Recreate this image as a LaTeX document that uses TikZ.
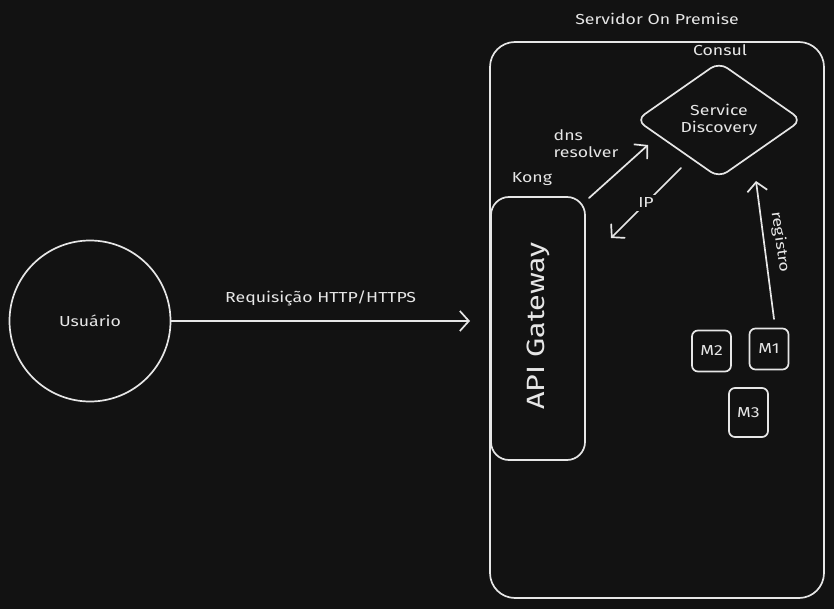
\documentclass[tikz,border=0pt]{standalone}
\usepackage{fontspec}
\setmainfont{Fira Sans}[FakeStretch=1.22]
\usetikzlibrary{arrows.meta,shapes.geometric}
\definecolor{bg}{HTML}{121212}
\definecolor{ink}{HTML}{E6E6E6}
\tikzset{
  stroke/.style={draw=ink, line width=1.7pt},
  lbl/.style={text=ink, font=\fontsize{14.5}{17}\selectfont, inner sep=1pt},
  arr/.style={stroke, -{Straight Barb[length=9pt,width=20pt,line width=1.7pt]}, line cap=round},
  mbox/.style={stroke, rounded corners=6pt, minimum width=39pt, minimum height=41pt, inner sep=0pt, text=ink, font=\fontsize{14.5}{17}\selectfont},
}
\begin{document}
\begin{tikzpicture}[x=1pt,y=-1pt]
\fill[bg] (0,0) rectangle (834,609);
\useasboundingbox (0,0) rectangle (834,609);

% user
\node[stroke, circle, minimum size=161pt, inner sep=0pt, lbl] (user) at (90,321) {Usuário};

% server
\node[stroke, rounded corners=25pt, minimum width=334pt, minimum height=556pt, inner sep=0pt] (srv) at (657,320) {};
\node[lbl] (srvlbl) at (657,19) {Servidor On Premise};

% gateway
\node[stroke, rounded corners=18pt, minimum width=94pt, minimum height=263pt, inner sep=0pt] (gw) at (538,328.5) {};
\node[text=ink, font=\fontsize{25}{27}\selectfont, rotate=90] (gwt) at (538,326) {API Gateway};
\node[lbl] (kong) at (532,179) {Kong};

% service discovery
\node[stroke, diamond, rounded corners=10pt, minimum width=166pt, minimum height=116pt, inner sep=0pt, lbl, align=center] (sd) at (719,120) {Service\\Discovery};
\node[lbl] (consul) at (720,50) {Consul};

% micro services
\node[mbox] (m2) at (711.5,351) {M2};
\node[mbox] (m1) at (769,349) {M1};
\node[mbox, minimum height=49pt] (m3) at (748.5,412.5) {M3};

% connectors
\coordinate (reqE) at (470,321);
\draw[arr] (user.east) -- node[lbl, above=13pt] {Requisição HTTP/HTTPS} (reqE);

\coordinate (dnsA) at (589,198);
\coordinate (dnsB) at (648,145);
\draw[arr] (dnsA) -- (dnsB);
\node[lbl, align=left] (dnslbl) at (586,144) {dns\\resolver};

\coordinate (ipA) at (681,168);
\coordinate (ipB) at (611,238);
\draw[arr] (ipA) -- node[lbl, fill=bg, inner sep=3pt] {IP} (ipB);

\coordinate (regA) at (774,319);
\coordinate (regB) at (756,181);
\draw[arr] (regA) -- (regB);
\node[lbl, rotate=-82] (reglbl) at (780,242) {registro};
\end{tikzpicture}
\end{document}
